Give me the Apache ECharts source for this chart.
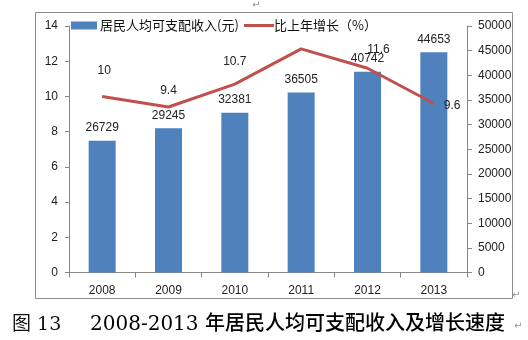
<!DOCTYPE html>
<html><head><meta charset="utf-8">
<script src="https://cdn.jsdelivr.net/npm/echarts@6/dist/echarts.min.js"></script>
<style>html,body{margin:0;padding:0;background:#fff}#c{width:528px;height:340px}</style>
</head><body><div id="c"></div>
<script>
const years = ['2008','2009','2010','2011','2012','2013'];
const income = [26729, 29245, 32381, 36505, 40742, 44653];
const growth = [10, 9.4, 10.7, 12.7, 11.6, 9.6];
const showGrowthLabel = [true, true, true, false, true, true];
const leftTicks = {min: 0, max: 14, interval: 2};
const rightTicks = {min: 0, max: 50000, interval: 5000};
const barName = '居民人均可支配收入(元)';
const lineName = '比上年增长（%）';
const caption = '2008-2013 年居民人均可支配收入及增长速度';
const figNo = '图 13';

const labelPlacement = [
  {position: 'top', distance: 20, offset: [2, 0]},
  {position: 'top', distance: 10, offset: [0, 0]},
  {position: 'top', distance: 16, offset: [0, 0]},
  {position: 'top', distance: 16, offset: [0, 0]},
  {position: 'top', distance: 13, offset: [11, 0]},
  {position: 'right', distance: 10, offset: [0, 2]}
];

const chart = echarts.init(document.getElementById('c'), null, {renderer: 'canvas'});
const axisCol = '#888';
const txt = '#222';
const font = '"Liberation Sans", Arial, sans-serif';
const cjk = '"Noto Sans CJK SC", "Liberation Sans", sans-serif';

chart.setOption({
  animation: false,
  textStyle: {fontFamily: font},
  grid: {left: 69, right: 61, top: 26, bottom: 67.5},
  legend: [
    {data: [barName], left: 66, top: 14, itemWidth: 26, itemHeight: 8, icon: 'rect', itemGap: 4,
     textStyle: {fontFamily: cjk, fontSize: 13, color: '#111', padding: [0,0,0,-2]}},
    {data: [lineName], left: 239, top: 14, itemWidth: 30, itemHeight: 3, icon: 'rect',
     textStyle: {fontFamily: cjk, fontSize: 13, color: '#111', padding: [0,0,0,-5]}}
  ],
  xAxis: {
    type: 'category', data: years,
    axisLine: {lineStyle: {color: axisCol}},
    axisTick: {show: true, alignWithLabel: false, length: 5, lineStyle: {color: axisCol}},
    axisLabel: {color: txt, fontSize: 12, margin: 12, fontFamily: font}
  },
  yAxis: [
    {type: 'value', min: leftTicks.min, max: leftTicks.max, interval: leftTicks.interval, position: 'left',
     axisLine: {show: true, lineStyle: {color: axisCol}},
     axisTick: {show: true, length: 4, lineStyle: {color: axisCol}},
     splitLine: {show: false},
     axisLabel: {color: txt, fontSize: 12, margin: 11, fontFamily: font}},
    {type: 'value', min: rightTicks.min, max: rightTicks.max, interval: rightTicks.interval, position: 'right',
     axisLine: {show: true, lineStyle: {color: axisCol}},
     axisTick: {show: true, length: 5, lineStyle: {color: axisCol}},
     splitLine: {show: false},
     axisLabel: {color: txt, fontSize: 12, margin: 11, fontFamily: font, formatter: v => String(v)}}
  ],
  series: [
    {name: barName, type: 'bar', yAxisIndex: 1, data: income, barWidth: 27,
     itemStyle: {color: '#4F81BD'},
     label: {show: true, position: 'top', distance: 7, color: txt, fontSize: 12, fontFamily: font}},
    {name: lineName, type: 'line', yAxisIndex: 0, showSymbol: true, symbol: 'circle', symbolSize: 0.01,
     lineStyle: {color: '#C0504D', width: 3}, itemStyle: {color: '#C0504D'},
     data: growth.map((v, i) => ({
       value: v,
       label: {show: showGrowthLabel[i], position: labelPlacement[i].position,
               distance: labelPlacement[i].distance, offset: labelPlacement[i].offset,
               color: txt, fontSize: 12, fontFamily: font}
     }))}
  ],
  graphic: [
    {type: 'rect', shape: {x: 35.5, y: 12.5, width: 477, height: 286}, style: {fill: null, stroke: '#8c8c8c', lineWidth: 1}, z: -1},
    {type: 'text', left: 12, top: 316, style: {text: figNo, font: '19px "DejaVu Serif", "Noto Sans CJK SC", serif', fill: '#111'}},
    {type: 'text', left: 90, top: 315, style: {text: caption, font: '500 20px "DejaVu Serif", "Noto Sans CJK SC", serif', fill: '#000'}},
    {type: 'text', left: 252, top: 0, style: {text: '↵', font: '10px "DejaVu Sans"', fill: '#999'}},
    {type: 'text', left: 512, top: 290, style: {text: '↵', font: '10px "DejaVu Sans"', fill: '#999'}},
    {type: 'text', left: 514, top: 321, style: {text: '↵', font: '10px "DejaVu Sans"', fill: '#999'}}
  ]
});
</script></body></html>
